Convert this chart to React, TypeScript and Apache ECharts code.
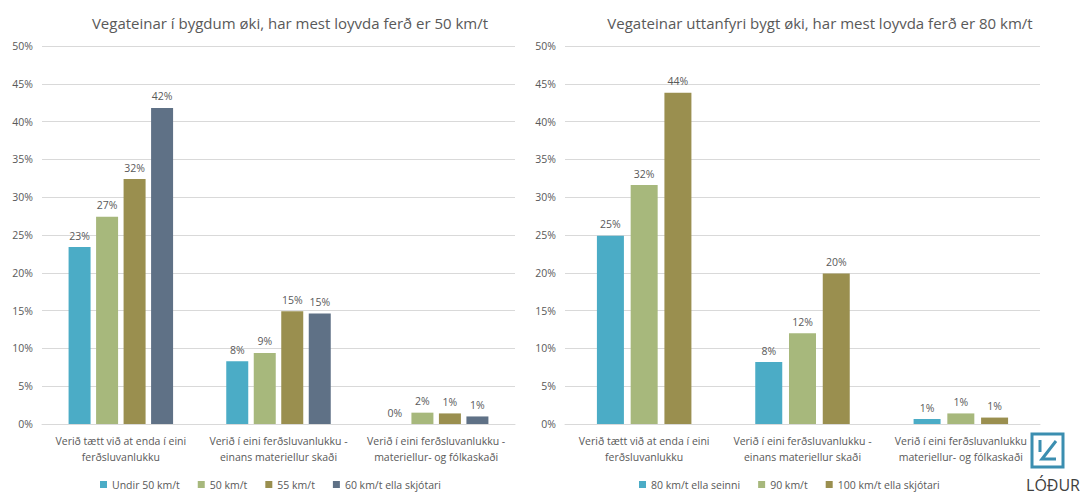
import React, { useEffect, useRef } from "react";
import * as echarts from "echarts";

const leftCategories = [
  "Verið tætt við at enda í eini\nferðsluvanlukku",
  "Verið í eini ferðsluvanlukku -\neinans materiellur skaði",
  "Verið í eini ferðsluvanlukku -\nmateriellur- og fólkaskaði",
];
const rightCategories = [
  "Verið tætt við at enda í eini\nferðsluvanlukku",
  "Verið í eini ferðsluvanlukku -\neinans materiellur skaði",
  "Verið í eini ferðsluvanlukku\nmateriellur- og fólkaskaði",
];
const leftSeriesNames = ["Undir 50 km/t", "50 km/t", "55 km/t", "60 km/t ella skjótari"];
const undir50 = [23.4, 8.3, 0];
const kmt50 = [27.4, 9.4, 1.5];
const kmt55 = [32.4, 14.9, 1.4];
const kmt60 = [41.8, 14.6, 1.0];
const rightSeriesNames = ["80 km/t ella seinni", "90 km/t", "100 km/t ella skjótari"];
const kmt80 = [24.9, 8.2, 0.66];
const kmt90 = [31.6, 12.0, 1.4];
const kmt100 = [43.8, 19.9, 0.85];
const yTicks = [0, 5, 10, 15, 20, 25, 30, 35, 40, 45, 50];

const leftTitle = "Vegateinar í bygdum øki, har mest loyvda ferð er 50 km/t";
const rightTitle = "Vegateinar uttanfyri bygt øki, har mest loyvda ferð er 80 km/t";

const colors = ["#4BACC6", "#A7B87C", "#9A8F4F", "#5F7186"];
const rightColors = ["#4BACC6", "#A7B87C", "#9A8F4F"];
const textColor = "#595959";
const font = "'Open Sans', sans-serif";

export default function App() {
  const ref = useRef<HTMLDivElement>(null);
  useEffect(() => {
    document.body.style.margin = "0";
    if (!ref.current) return;
    const chart = echarts.init(ref.current, null, { renderer: "svg" });
    const yAxisBase = (gridIndex: number) => ({
      type: "value",
      gridIndex,
      min: yTicks[0],
      max: yTicks[yTicks.length - 1],
      interval: 5,
      axisLine: { show: false },
      axisTick: { show: false },
      splitLine: { lineStyle: { color: "#D9D9D9", width: 1 } },
      axisLabel: { color: textColor, fontFamily: font, fontSize: 10.5, formatter: (v: number) => v + "%", margin: 9 },
    });
    const xAxisBase = (gridIndex: number, data: string[]) => ({
      type: "category",
      gridIndex,
      data,
      axisLine: { lineStyle: { color: "#D9D9D9" } },
      axisTick: { show: false },
      axisLabel: { color: textColor, fontFamily: font, fontSize: 10.5, lineHeight: 16, margin: 9, interval: 0 },
    });
    const makeLabel = () => ({
      show: true,
      position: "top",
      color: textColor,
      fontFamily: font,
      fontSize: 10.5,
      distance: 6,
      formatter: (p: any) => Math.round(p.value) + "%",
    });
    const leftData = [undir50, kmt50, kmt55, kmt60];
    const rightData = [kmt80, kmt90, kmt100];
    const series: any[] = [];
    leftSeriesNames.forEach((n, i) => {
      series.push({
        type: "bar",
        name: n,
        xAxisIndex: 0,
        yAxisIndex: 0,
        data: leftData[i],
        barWidth: 22,
        barGap: "25%",
        itemStyle: { color: colors[i] },
        label: makeLabel(),
      });
    });
    rightSeriesNames.forEach((n, i) => {
      series.push({
        type: "bar",
        name: n,
        xAxisIndex: 1,
        yAxisIndex: 1,
        data: rightData[i],
        barWidth: 27,
        barGap: "25%",
        itemStyle: { color: rightColors[i] },
        label: makeLabel(),
      });
    });
    const titleStyle = { color: textColor, fontFamily: font, fontSize: 15, fontWeight: "normal" };
    const legendText = { color: textColor, fontFamily: font, fontSize: 10.5 };
    chart.setOption({
      animation: false,
      backgroundColor: "#FFFFFF",
      title: [
        { text: leftTitle, left: 285, top: 10, textAlign: "center", textStyle: titleStyle },
        { text: rightTitle, left: 815, top: 10, textAlign: "center", textStyle: titleStyle },
      ],
      legend: [
        {
          data: leftSeriesNames,
          left: 95, top: 474, width: 400, itemWidth: 7, itemHeight: 7, itemGap: 18, icon: "rect",
          textStyle: legendText,
        },
        {
          data: rightSeriesNames,
          left: 634, top: 474, width: 380, itemWidth: 7, itemHeight: 7, itemGap: 18, icon: "rect",
          textStyle: legendText,
        },
      ],
      grid: [
        { left: 42, right: 568, top: 46, bottom: 76 },
        { left: 565, right: 43, top: 46, bottom: 76 },
      ],
      xAxis: [xAxisBase(0, leftCategories), xAxisBase(1, rightCategories)],
      yAxis: [yAxisBase(0), yAxisBase(1)],
      series,
      graphic: [
        { type: "rect", shape: { x: 1032, y: 434, width: 31, height: 33 }, style: { fill: "#FFFFFF", stroke: "#3B8EB0", lineWidth: 3 } },
        { type: "polyline", shape: { points: [[1040, 440], [1040, 452]] }, style: { fill: "none", stroke: "#3B8EB0", lineWidth: 3 } },
        { type: "polyline", shape: { points: [[1056, 441], [1042, 459], [1056, 459]] }, style: { fill: "none", stroke: "#3B8EB0", lineWidth: 3 } },
        { type: "text", style: { x: 1080, y: 477, text: "LÓÐUR", align: "right", fill: "#404040", font: "16px 'Open Sans', sans-serif" } },
      ],
    });
    return () => chart.dispose();
  }, []);
  return <div ref={ref} style={{ width: 1083, height: 500 }} />;
}
